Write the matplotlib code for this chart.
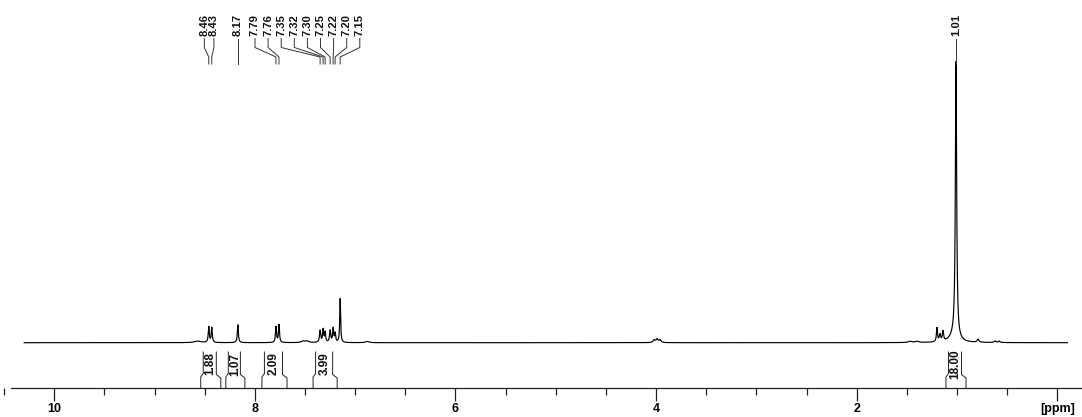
import numpy as np
import matplotlib
matplotlib.use("Agg")
import matplotlib.pyplot as plt
from matplotlib.ticker import MultipleLocator, FixedLocator, FixedFormatter

# ---- spectrum data (1H NMR peak list: shift in ppm, height, half-width in ppm) ----
peak_ppm = [8.57, 8.46, 8.43, 8.17, 7.79, 7.76, 7.52, 7.48,
            7.35, 7.32, 7.30, 7.25, 7.22, 7.20, 7.15, 6.88,
            4.02, 3.99, 3.96, 1.47, 1.40, 1.20, 1.17, 1.14,
            1.01, 1.03, 0.79, 0.62, 0.58]
peak_height = [1.5, 16, 15, 18, 16, 18, 1.5, 1.5,
               12, 13, 10, 12, 14, 9, 44, 1.2,
               2.5, 3.5, 2.5, 1.2, 1.2, 14, 7, 10,
               276, 6, 3, 1.5, 1.5]
peak_width = [0.04, 0.006, 0.006, 0.006, 0.006, 0.006, 0.02, 0.02,
              0.007, 0.006, 0.006, 0.007, 0.006, 0.006, 0.005, 0.02,
              0.012, 0.012, 0.012, 0.02, 0.02, 0.006, 0.008, 0.007,
              0.0075, 0.05, 0.01, 0.01, 0.01]

# labelled peaks
label_ppm = [8.46, 8.43, 8.17, 7.79, 7.76, 7.35, 7.32, 7.30,
             7.25, 7.22, 7.20, 7.15, 1.01]

# integrals: region limits (ppm) and values
integral_left = [8.54, 8.29, 7.93, 7.42, 1.11]
integral_right = [8.34, 8.10, 7.68, 7.18, 0.91]
integral_value = ["1.88", "1.07", "2.09", "3.99", "18.00"]

# axis ticks
major_ticks = [10, 8, 6, 4, 2, 0]
major_labels = ["10", "8", "6", "4", "2", "[ppm]"]

# ---- layout helpers: canvas is measured in pixels, x axis in ppm ----
W, H = 1082, 417
X0, PX_PER_PPM = 54.3, 100.3


def px2ppm(px):
    return 10 - (px - X0) / PX_PER_PPM


def dpx(px):
    return px / PX_PER_PPM


BASE_Y = 342.7
AXIS_Y = 388
FONT = ["Liberation Sans", "DejaVu Sans"]

fig = plt.figure(figsize=(W / 100, H / 100), dpi=100)
ax = fig.add_axes([0, 0, 1, 1])
ax.set_xlim(px2ppm(0), px2ppm(W))
ax.set_ylim(H, 0)

# spectrum as a sum of Lorentzian lines
ppm = np.linspace(10.3, -0.1, 30000)
intensity = np.zeros_like(ppm)
for c, h, w in zip(peak_ppm, peak_height, peak_width):
    intensity += h * w**2 / ((ppm - c) ** 2 + w**2)
ax.plot(ppm, BASE_Y - intensity, color="black", lw=0.85, solid_joinstyle="miter")

# ppm axis
for s in ["top", "left", "right"]:
    ax.spines[s].set_visible(False)
ax.spines["bottom"].set_position(("data", AXIS_Y))
ax.spines["bottom"].set_bounds(px2ppm(11), px2ppm(W))
ax.spines["bottom"].set_linewidth(0.9)
ax.spines["bottom"].set_color("#222222")
ax.xaxis.set_major_locator(FixedLocator(major_ticks))
ax.xaxis.set_major_formatter(FixedFormatter(major_labels))
ax.xaxis.set_minor_locator(MultipleLocator(0.5))
ax.tick_params(axis="x", which="major", direction="out", length=9, width=0.9,
               color="#222222", pad=1.8, labelsize=9)
ax.tick_params(axis="x", which="minor", direction="out", length=5, width=0.9,
               color="#222222")
for t in ax.get_xticklabels():
    t.set_fontfamily(FONT)
    t.set_fontweight("bold")
ax.yaxis.set_visible(False)


# peak labels spread into slots above the spectrum
def spread(values, start_px, gap_px):
    return [px2ppm(start_px + i * gap_px) for i in range(len(values))]


groups = [label_ppm[0:2], label_ppm[2:3], label_ppm[3:12], label_ppm[12:13]]
slot_x = []
slot_x += spread(groups[0], 204.3, 9.6)
slot_x += [groups[1][0]]
slot_x += spread(groups[2], 255.0, 13.1)
slot_x += [groups[3][0]]

for p, sx in zip(label_ppm, slot_x):
    ax.text(sx, 35.5, f"{p:.2f}", rotation=90, ha="center", va="bottom",
            fontsize=8.1, fontweight="bold", family=FONT, color="#111111")
    ax.plot([sx, sx, p, p], [38.5, 47.5, 57, 64], color="#333333", lw=0.7)

# integral brackets and values
for xl, xr, val in zip(integral_left, integral_right, integral_value):
    ax.plot([xl, xl, xl - dpx(2.5), xl - dpx(2.5)], [AXIS_Y, 377, 373.5, 352],
            color="#222222", lw=0.7)
    ax.plot([xr + dpx(4.5), xr + dpx(4.5), xr, xr], [352, 374.5, 378, AXIS_Y],
            color="#222222", lw=0.7)
    ax.text((xl + xr) / 2 + dpx(0.5), 364, val, rotation=90, ha="center",
            va="center", fontsize=8.5, fontweight="bold", family=FONT,
            color="#111111")

fig.savefig("out.png", dpi=100)
